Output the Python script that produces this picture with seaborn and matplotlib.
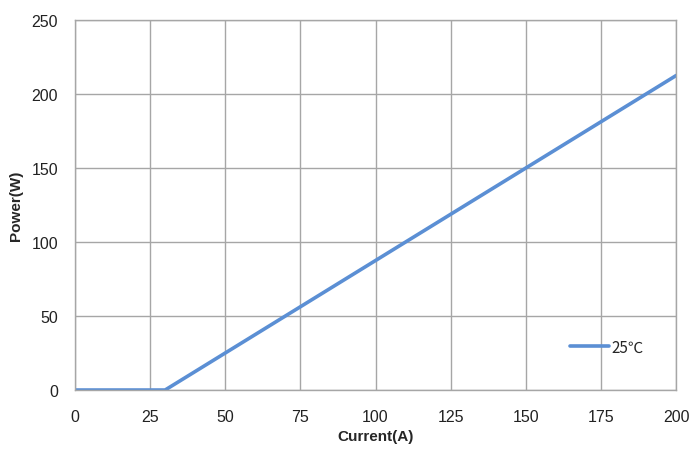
import matplotlib
matplotlib.use("Agg")
import matplotlib.pyplot as plt
import seaborn as sns
import pandas as pd

current = [0, 30, 200]
power = [0, 0, 212.5]
series_label = "25℃"
x_ticks = [0, 25, 50, 75, 100, 125, 150, 175, 200]
y_ticks = [0, 50, 100, 150, 200, 250]

sns.set_theme(style="white")
plt.rcParams['font.family'] = ['Liberation Sans', 'DejaVu Sans']

df = pd.DataFrame({"Current": current, "Power": power, "series": series_label})

fig = plt.figure(figsize=(7, 4.56), dpi=100)
ax = fig.add_axes([0.107, 0.1425, 0.859, 0.8115])
sns.lineplot(data=df, x="Current", y="Power", hue="series", palette=["#5B8FD4"],
             linewidth=2.6, ax=ax)

ax.set_xlim(0, 200)
ax.set_ylim(0, 250)
ax.set_xticks(x_ticks)
ax.set_yticks(y_ticks)
ax.grid(True, color="#A6A6A6", linewidth=1.0)
ax.set_axisbelow(True)
for s in ax.spines.values():
    s.set_color("#A6A6A6")
    s.set_linewidth(1.0)
ax.tick_params(axis="both", length=0, labelsize=11.5, colors="#222222")
ax.tick_params(axis="x", pad=14)
ax.tick_params(axis="y", pad=12)
ax.set_xlabel("Current(A)", fontsize=11, fontweight="bold", labelpad=3)
ax.set_ylabel("Power(W)", fontsize=11, fontweight="bold", labelpad=6)

leg = ax.legend(loc="center left", bbox_to_anchor=(0.80, 0.116), frameon=False,
                handlelength=2.6, handletextpad=0.1,
                prop={'family': ['Noto Sans CJK SC', 'DejaVu Sans'], 'size': 11})

fig.savefig("out.png", dpi=100)
